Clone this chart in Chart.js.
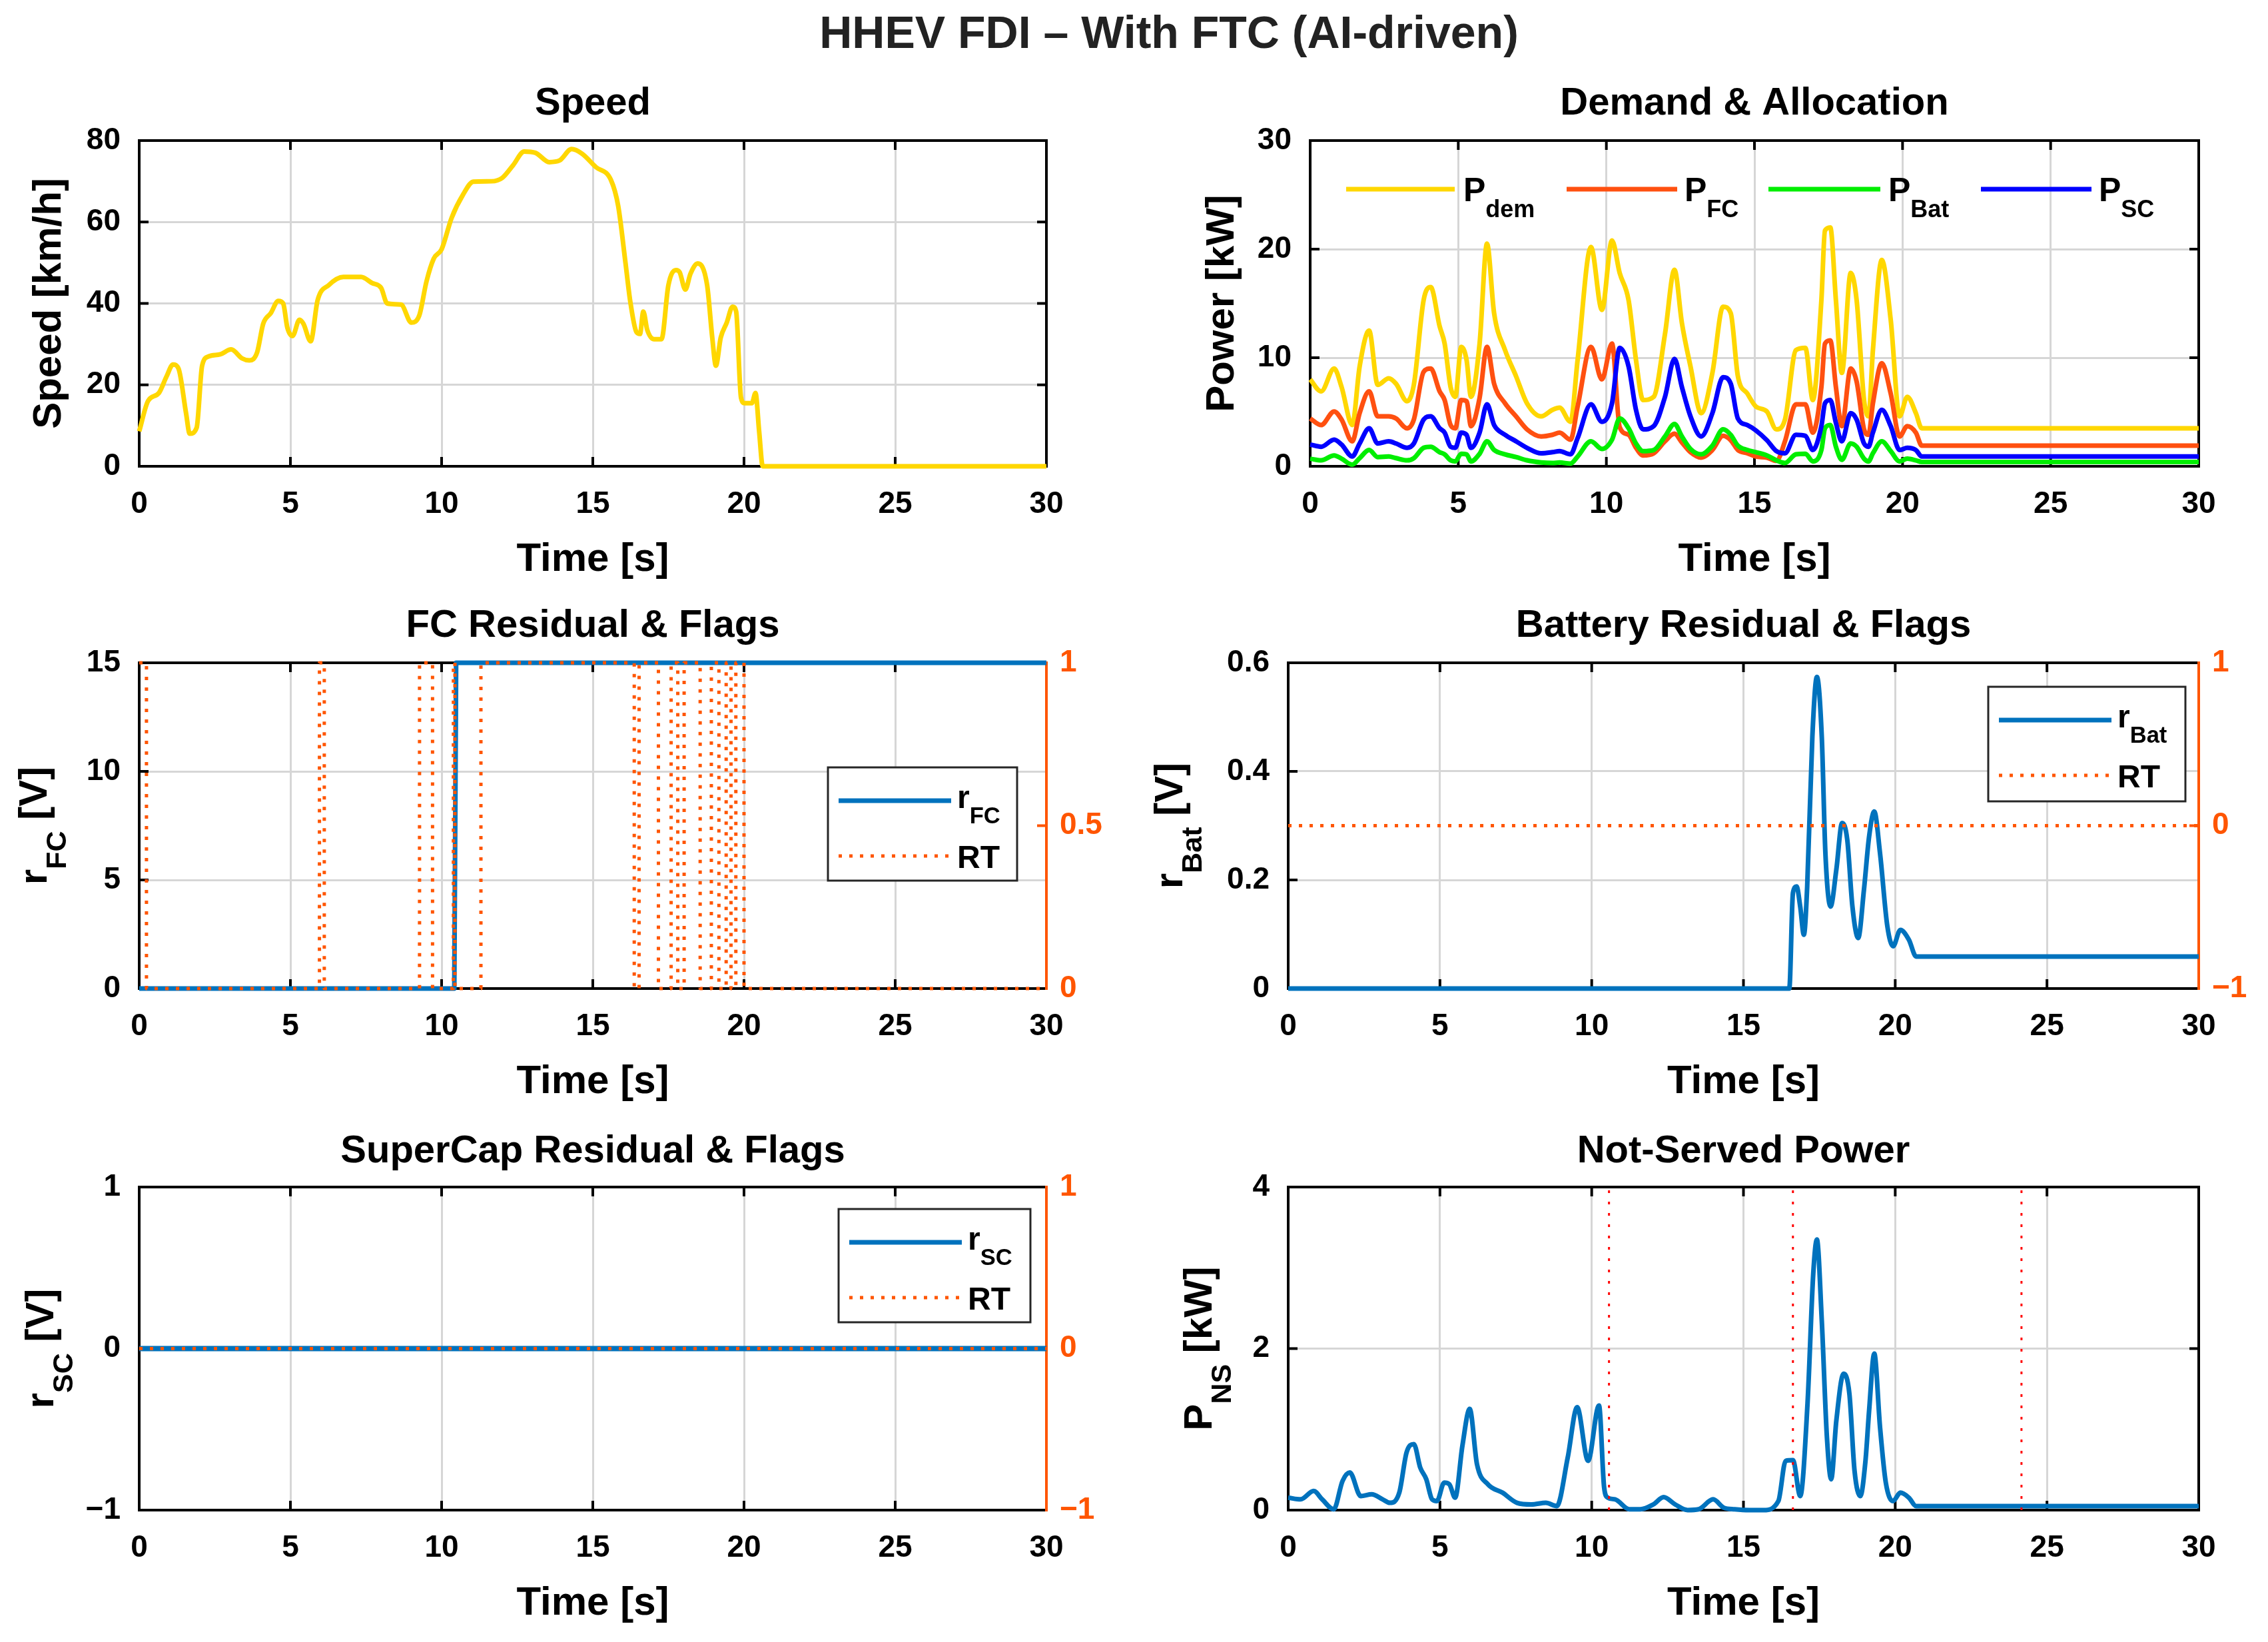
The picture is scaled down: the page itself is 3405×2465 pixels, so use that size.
<!DOCTYPE html>
<html>
<head>
<meta charset="utf-8">
<title>HHEV FDI – With FTC (AI-driven)</title>
<script src="https://cdn.jsdelivr.net/npm/chart.js@4.4.1/dist/chart.umd.min.js"></script>
<style>
  html, body { margin: 0; padding: 0; background: #fff; }
  body { width: 3405px; height: 2465px; position: relative; overflow: hidden; }
  #suptitle { position: absolute; left: 0; top: 10px; width: 3510px; text-align: center;
    font: bold 68px "Liberation Sans", Arial, sans-serif; color: #222; line-height: 76px; }
  canvas { position: absolute; }
</style>
</head>
<body>
<div id="suptitle">HHEV FDI – With FTC (AI-driven)</div>
<script>
/* ======================
   DATA
====================== */
const timeTicks = [0, 5, 10, 15, 20, 25, 30];

// Speed [km/h]
const speedT = [0, 0.29, 0.65, 0.9, 1.12, 1.3, 1.55, 1.67, 1.9, 2.08, 2.3, 2.68, 3.04, 3.4, 3.64, 3.9,
  4.1, 4.35, 4.6, 4.76, 4.9, 5.07, 5.3, 5.43, 5.67, 5.9, 6.27, 6.75, 7.34, 7.7, 8.0, 8.2, 8.66, 9.0,
  9.26, 9.5, 9.74, 10.0, 10.33, 10.7, 11.05, 11.65, 12.0, 12.37, 12.73, 13.1, 13.56, 13.9, 14.3,
  14.64, 15.1, 15.6, 15.84, 16.08, 16.24, 16.44, 16.56, 16.67, 16.8, 17.03, 17.27, 17.5, 17.75,
  17.87, 18.06, 18.23, 18.47, 18.78, 18.95, 19.07, 19.23, 19.43, 19.62, 19.74, 19.9, 20.02, 20.26,
  20.38, 20.5, 20.62, 30];
const speedV = [8.6, 16, 18, 22, 25, 24, 13, 8, 9.5, 24.7, 27, 27.5, 28.7, 26.5, 26, 28,
  35, 37.6, 40.6, 40, 34, 32, 36, 35, 30.7, 40.8, 44.5, 46.5, 46.5, 45, 43.8, 40, 39.7, 35.3,
  37, 45.4, 51, 53.3, 61, 66.6, 69.9, 70, 70.8, 74, 77.3, 77, 74.7, 75.1, 77.9,
  76.8, 73.5, 70.3, 63.9, 50, 40.4, 33, 32.5, 38, 33.5, 31.2, 31.2, 44.5, 48.2,
  47.7, 43.4, 47.3, 49.8, 44.5, 31.6, 24.7, 31.6, 35.3, 39.2, 38, 16.9, 15.5, 15.5,
  18, 8.6, 0, 0];
const speedTicks = [0, 20, 40, 60, 80];

// Demand & allocation [kW]
const powT = [0, 0.37, 0.81, 1.06, 1.42, 1.67, 1.99, 2.28, 2.65, 2.9,
  3.27, 3.5, 3.83, 4.07, 4.37, 4.54, 4.74, 4.9, 5.1, 5.28,
  5.43, 5.72, 5.97, 6.21, 6.58, 6.95, 7.32, 7.8, 8.18, 8.42,
  8.79, 9.03, 9.48, 9.85, 10.19, 10.45, 10.75, 11.0, 11.24, 11.6,
  11.98, 12.3, 12.55, 12.84, 13.2, 13.58, 13.94, 14.2, 14.44, 14.76,
  15.05, 15.42, 15.74, 16.03, 16.4, 16.72, 16.97, 17.26, 17.38, 17.56,
  17.75, 17.95, 18.25, 18.45, 18.7, 18.85, 19.0, 19.3, 19.6, 19.9,
  20.16, 20.45, 20.65, 30];
const pDem = [8.0, 6.9, 9.0, 7.3, 3.8, 9.2, 12.5, 7.5, 8.1, 7.6,
  6.0, 7.5, 15.3, 16.5, 12.9, 11.3, 7.3, 6.4, 11.0, 9.8,
  6.4, 11.3, 20.5, 14.1, 10.7, 8.3, 5.8, 4.6, 5.2, 5.4,
  4.1, 9.8, 20.2, 14.4, 20.8, 17.8, 15.3, 9.8, 6.1, 6.4,
  12.2, 18.1, 13.2, 9.2, 4.9, 8.6, 14.7, 14.1, 8.3, 6.7,
  5.5, 5.05, 3.4, 4.3, 10.7, 10.9, 6.1, 15.3, 21.7, 22.0,
  15.3, 8.6, 17.8, 15.3, 6.1, 4.6, 10.7, 19.0, 13.5, 4.6,
  6.4, 4.9, 3.5, 3.5];
const pFc = [4.4, 3.8, 5.05, 4.3, 2.3, 4.9, 6.9, 4.6, 4.6, 4.4,
  3.5, 4.3, 8.7, 9.0, 6.9, 6.1, 3.8, 3.5, 6.1, 6.0,
  3.7, 6.3, 11.0, 7.6, 5.8, 4.6, 3.4, 2.75, 2.9, 3.1,
  2.45, 5.5, 11.0, 8.0, 11.3, 3.6, 2.9, 1.7, 1.0, 1.2,
  2.3, 3.0, 2.2, 1.3, 0.8, 1.5, 2.8, 2.4, 1.5, 1.2,
  0.9, 0.8, 0.5, 2.3, 5.7, 5.7, 3.1, 7.3, 11.3, 11.6,
  7.3, 3.7, 9.0, 7.8, 3.4, 2.9, 5.8, 9.5, 6.7, 2.75,
  3.7, 3.1, 1.9, 1.9];
const pBat = [0.7, 0.55, 1.0, 0.7, 0.15, 0.75, 1.5, 0.85, 0.9, 0.75,
  0.55, 0.75, 1.7, 1.8, 1.3, 1.1, 0.55, 0.45, 1.15, 1.1,
  0.45, 1.15, 2.3, 1.5, 1.1, 0.85, 0.55, 0.35, 0.3, 0.35,
  0.25, 0.9, 2.3, 1.6, 2.45, 4.4, 3.5, 2.1, 1.4, 1.5,
  2.75, 3.9, 2.75, 1.6, 1.1, 1.9, 3.4, 2.9, 1.9, 1.5,
  1.3, 1.0, 0.55, 0.3, 1.1, 1.15, 0.45, 1.5, 3.5, 3.8,
  1.8, 0.6, 2.1, 1.8, 0.7, 0.45, 1.2, 2.3, 1.4, 0.45,
  0.7, 0.55, 0.4, 0.4];
const pSc = [2.0, 1.8, 2.45, 2.0, 0.9, 2.1, 3.5, 2.1, 2.3, 2.1,
  1.7, 2.1, 4.3, 4.6, 3.5, 3.1, 1.8, 1.7, 3.1, 2.9,
  1.7, 3.1, 5.7, 3.8, 2.9, 2.3, 1.7, 1.2, 1.3, 1.4,
  1.1, 2.6, 5.7, 4.1, 5.8, 10.9, 9.2, 5.2, 3.4, 3.7,
  6.4, 9.9, 7.3, 4.6, 2.75, 4.9, 8.2, 7.6, 4.4, 3.8,
  3.3, 2.4, 1.4, 1.2, 2.9, 2.8, 1.5, 3.7, 5.8, 6.1,
  4.0, 2.3, 4.9, 4.3, 2.1, 1.8, 3.1, 5.2, 3.7, 1.5,
  1.7, 1.5, 0.9, 0.9];
const powerTicks = [0, 10, 20, 30];

// FC residual [V] and RT flag (toggle times, flag starts at 1)
const rFcT = [0, 10.42, 10.48, 30];
const rFcV = [0, 0, 15, 15];
const rtFcEdges = [0.24, 5.96, 6.12, 9.27, 9.70, 10.39, 10.44, 11.30, 16.37, 16.53, 17.17,
  17.59, 17.81, 18.02, 18.55, 18.92, 19.17, 19.41, 19.57, 19.73, 20.0];
const rtFcStart = 1;
const rFcTicks = [0, 5, 10, 15];
const rtFcTicks = [0, 0.5, 1];

// Battery residual [V] and RT flag
const rBatT = [0, 16.51, 16.63, 16.75, 16.87, 16.99, 17.1, 17.27, 17.42, 17.58, 17.7, 17.87,
  18.06, 18.25, 18.42, 18.59, 18.78, 18.97, 19.14, 19.31, 19.5, 19.74, 19.93, 20.17, 20.45, 20.69, 30];
const rBatV = [0, 0, 0.176, 0.188, 0.151, 0.099, 0.188, 0.464, 0.574, 0.464, 0.249, 0.151,
  0.219, 0.305, 0.274, 0.151, 0.093, 0.182, 0.28, 0.326, 0.249, 0.115, 0.078, 0.108, 0.09, 0.059, 0.059];
const rtBatT = [0, 30];
const rtBatV = [0, 0];
const rBatTicks = [0, 0.2, 0.4, 0.6];
const rtBatTicks = [-1, 0, 1];

// SuperCap residual [V] and RT flag
const rScT = [0, 30];
const rScV = [0, 0];
const rtScT = [0, 30];
const rtScV = [0, 0];
const rScTicks = [-1, 0, 1];
const rtScTicks = [-1, 0, 1];

// Not-served power [kW] and fault instants [s]
const nsT = [0, 0.41, 0.84, 1.12, 1.5, 1.79, 2.03, 2.39, 2.75, 3.11,
  3.35, 3.66, 3.9, 4.14, 4.35, 4.55, 4.74, 4.9, 5.14, 5.31,
  5.5, 5.74, 5.98, 6.22, 6.58, 7.06, 7.54, 8.01, 8.49, 8.85,
  9.21, 9.52, 9.88, 10.24, 10.41, 10.53, 10.77, 11.24, 11.6, 12.03,
  12.37, 12.75, 13.16, 13.52, 14.0, 14.35, 14.71, 15.19, 15.67, 16.15,
  16.39, 16.63, 16.87, 17.11, 17.3, 17.42, 17.58, 17.75, 17.89, 18.06,
  18.3, 18.49, 18.66, 18.85, 19.02, 19.14, 19.31, 19.5, 19.69, 19.93,
  20.17, 20.45, 20.69, 30];
const nsV = [0.154, 0.133, 0.237, 0.133, 0.01, 0.36, 0.465, 0.174, 0.195, 0.133,
  0.09, 0.216, 0.714, 0.817, 0.527, 0.382, 0.133, 0.112, 0.34, 0.32,
  0.154, 0.797, 1.253, 0.568, 0.32, 0.216, 0.09, 0.07, 0.09, 0.05,
  0.651, 1.274, 0.61, 1.295, 0.278, 0.154, 0.133, 0.01, 0.01, 0.07,
  0.16, 0.07, 0, 0.01, 0.133, 0.03, 0.01, 0, 0, 0.112,
  0.61, 0.618, 0.174, 1.315, 2.93, 3.35, 2.35, 0.9, 0.382, 1.108,
  1.689, 1.44, 0.485, 0.174, 0.61, 1.232, 1.938, 1.025, 0.34, 0.112,
  0.216, 0.154, 0.05, 0.05];
const faultT = [10.57, 16.63, 24.16];
const nsTicks = [0, 2, 4];

/* ======================
   STYLE / LAYOUT
====================== */
const FONT = '"Liberation Sans", Arial, Helvetica, sans-serif';
const BLUE = '#0072bd';
const ORANGE = '#ff5500';
const YELLOW = '#ffd700';
const RED_OR = '#ff5010';
const GREEN = '#00ee00';
const PURE_BLUE = '#0000ff';
const GRID = { color: '#d6d6d6', lineWidth: 3, drawTicks: false };
const LW = 7;
const DOT = [5, 11];

const ROWS = [
  { plotT: 211, plotB: 700, titleC: 156 },
  { plotT: 995, plotB: 1484, titleC: 940 },
  { plotT: 1782, plotB: 2267, titleC: 1729 }
];
const TITLE_SIZE = 58;
const TITLE_LH = TITLE_SIZE * 1.2;
const TICK_SIZE = 46;
const LABEL_SIZE = 60;
const X_AXIS_H = 176;
const TICK_LEN = 14;
const SUB = 0.72;
const SUB_SHIFT = 0.48;

Chart.defaults.font.family = FONT;
Chart.defaults.font.weight = 'bold';
Chart.defaults.color = '#000';

/* ======================
   HELPERS
====================== */
function pts(xs, ys) {
  return xs.map((x, i) => ({ x, y: ys[i] }));
}

// flag signal from its toggle times
function flagSteps(edges, start, tEnd) {
  let v = start;
  const out = [{ x: 0, y: v }];
  edges.forEach(t => { v = 1 - v; out.push({ x: t, y: v }); });
  out.push({ x: tEnd, y: v });
  return out;
}

// vertical marker lines from y0 to y1
function vlines(ts, y0, y1) {
  const out = [];
  ts.forEach(t => out.push({ x: t, y: y0 }, { x: t, y: y1 }, { x: t, y: null }));
  return out;
}

function fmtTick(v) {
  const s = String(Math.round(v * 100) / 100);
  return v < 0 ? '\u2212' + s.slice(1) : s;
}

function fixedTicks(values) {
  return s => { s.ticks = values.map(v => ({ value: v })); };
}

function line(data, color, extra) {
  return Object.assign({
    data, borderColor: color, backgroundColor: color, borderWidth: LW,
    pointRadius: 0, fill: false, clip: 12, cubicInterpolationMode: 'monotone',
    borderJoinStyle: 'round'
  }, extra || {});
}

function flat(data, color, extra) {
  return line(data, color, Object.assign({ cubicInterpolationMode: 'default', tension: 0 }, extra || {}));
}

function dotted(data, extra) {
  return flat(data, ORANGE, Object.assign({ borderWidth: 5, borderDash: DOT, borderCapStyle: 'butt' }, extra || {}));
}

function drawRich(ctx, parts, x, y, size) {
  parts.forEach(([t, sub]) => {
    const s = sub ? size * SUB : size;
    ctx.font = `bold ${s}px ${FONT}`;
    ctx.fillText(t, x, sub ? y + size * SUB_SHIFT : y);
    x += ctx.measureText(t).width;
  });
}

function richWidth(ctx, parts, size) {
  let w = 0;
  parts.forEach(([t, sub]) => {
    ctx.font = `bold ${sub ? size * SUB : size}px ${FONT}`;
    w += ctx.measureText(t).width;
  });
  return w;
}

// boxed legend with two rows (residual + RT)
function boxLegend(L, T, R, B, first) {
  return {
    size: 48, box: [L, T, R, B],
    rows: [
      { y: T + 50, base: T + 61, x0: L + 16, x1: L + 185, tx: L + 194, color: BLUE, width: LW, parts: first },
      { y: T + 133, base: T + 151, x0: L + 16, x1: L + 185, tx: L + 194, color: ORANGE, width: 5, dash: DOT, parts: [['RT']] }
    ]
  };
}

/* ======================
   AXES BOX, TICKS, LABELS, LEGENDS
====================== */
const decor = {
  id: 'decor',
  beforeDatasetsDraw(chart, args, o) {
    const { ctx, chartArea: a, scales } = chart;
    const seg = (x1, y1, x2, y2, c) => {
      ctx.strokeStyle = c;
      ctx.beginPath(); ctx.moveTo(x1, y1); ctx.lineTo(x2, y2); ctx.stroke();
    };
    ctx.save();
    ctx.lineWidth = 4;
    scales.x.ticks.forEach(t => {
      const px = scales.x.getPixelForValue(t.value);
      seg(px, a.bottom, px, a.bottom - TICK_LEN, '#000');
      seg(px, a.top, px, a.top + TICK_LEN, '#000');
    });
    scales.y.ticks.forEach(t => {
      const py = scales.y.getPixelForValue(t.value);
      seg(a.left, py, a.left + TICK_LEN, py, '#000');
      if (!scales.y2) seg(a.right, py, a.right - TICK_LEN, py, '#000');
    });
    if (scales.y2) {
      scales.y2.ticks.forEach(t => {
        const py = scales.y2.getPixelForValue(t.value);
        seg(a.right, py, a.right - TICK_LEN, py, ORANGE);
      });
    }
    ctx.strokeStyle = '#000';
    ctx.strokeRect(a.left, a.top, a.right - a.left, a.bottom - a.top);
    if (scales.y2) seg(a.right, a.top - 2, a.right, a.bottom + 2, ORANGE);
    ctx.restore();
  },
  afterDraw(chart, args, o) {
    const { ctx, chartArea: a } = chart;
    ctx.save();
    ctx.fillStyle = '#000';
    ctx.textAlign = 'left';
    ctx.textBaseline = 'alphabetic';
    // y-axis label, rotated, baseline at o.yTitle.x
    const yt = o.yTitle;
    const w = richWidth(ctx, yt.parts, LABEL_SIZE);
    ctx.save();
    ctx.translate(yt.x - o.left, (a.top + a.bottom) / 2);
    ctx.rotate(-Math.PI / 2);
    drawRich(ctx, yt.parts, -w / 2, 0, LABEL_SIZE);
    ctx.restore();
    // legend
    const lg = o.legend;
    if (lg) {
      if (lg.box) {
        const [L, T, R, B] = lg.box;
        ctx.fillStyle = '#fff';
        ctx.fillRect(L - o.left, T - o.top, R - L, B - T);
        ctx.lineWidth = 3;
        ctx.strokeStyle = '#262626';
        ctx.strokeRect(L - o.left, T - o.top, R - L, B - T);
      }
      lg.rows.forEach(r => {
        ctx.strokeStyle = r.color;
        ctx.lineWidth = r.width;
        ctx.setLineDash(r.dash || []);
        ctx.beginPath();
        ctx.moveTo(r.x0 - o.left, r.y - o.top);
        ctx.lineTo(r.x1 - o.left, r.y - o.top);
        ctx.stroke();
        ctx.setLineDash([]);
        ctx.fillStyle = '#000';
        drawRich(ctx, r.parts, r.tx - o.left, r.base - o.top, lg.size);
      });
    }
    ctx.restore();
  }
};

function xAxis() {
  return {
    type: 'linear', min: 0, max: 30,
    afterBuildTicks: fixedTicks(timeTicks),
    afterFit: s => { s.height = X_AXIS_H; },
    grid: GRID,
    border: { display: false },
    ticks: { padding: 30, maxRotation: 0, autoSkip: false, font: { size: TICK_SIZE, weight: 'bold' }, color: '#000' },
    title: { display: true, text: 'Time [s]', font: { size: LABEL_SIZE, weight: 'bold' }, color: '#000', padding: 0 }
  };
}

function yAxis(min, max, ticks, side, width) {
  const left = side === 'left';
  return {
    type: 'linear', position: side, min, max,
    afterBuildTicks: fixedTicks(ticks),
    afterFit: s => { s.width = width; },
    grid: left ? GRID : { display: false, drawOnChartArea: false, drawTicks: false },
    border: { display: false },
    ticks: {
      padding: left ? 28 : 20, autoSkip: false, callback: fmtTick,
      color: left ? '#000' : ORANGE, font: { size: TICK_SIZE, weight: 'bold' }
    }
  };
}

function makePanel(p) {
  const row = ROWS[p.row];
  const top = Math.round(row.titleC - TITLE_LH / 2);
  const bottom = row.plotB + X_AXIS_H;
  const cv = document.createElement('canvas');
  cv.width = p.width;
  cv.height = bottom - top;
  cv.style.left = p.left + 'px';
  cv.style.top = top + 'px';
  document.body.appendChild(cv);

  const rightW = p.left + p.width - p.plotR;
  const scales = { x: xAxis(), y: yAxis(p.y[0], p.y[1], p.y[2], 'left', p.plotL - p.left) };
  if (p.y2) scales.y2 = yAxis(p.y2[0], p.y2[1], p.y2[2], 'right', rightW);

  return new Chart(cv, {
    type: 'line',
    data: { datasets: p.datasets },
    options: {
      responsive: false, animation: false, devicePixelRatio: 1, events: [],
      spanGaps: false,
      layout: { padding: { left: 0, top: 0, bottom: 0, right: p.y2 ? 0 : rightW } },
      plugins: {
        legend: { display: false },
        tooltip: { enabled: false },
        title: {
          display: true, text: p.title, fullSize: false, color: '#000',
          font: { size: TITLE_SIZE, weight: 'bold', lineHeight: 1.2 },
          padding: { top: 0, bottom: row.plotT - top - TITLE_LH }
        },
        decor: { left: p.left, top, yTitle: p.yTitle, legend: p.legend }
      },
      scales
    },
    plugins: [decor]
  });
}

/* ======================
   PANELS
====================== */
makePanel({
  row: 0, left: 0, width: 1700, plotL: 209, plotR: 1571, title: 'Speed',
  y: [0, 80, speedTicks],
  yTitle: { x: 91, parts: [['Speed [km/h]']] },
  datasets: [line(pts(speedT, speedV), YELLOW)]
});

makePanel({
  row: 0, left: 1700, width: 1705, plotL: 1967, plotR: 3301, title: 'Demand & Allocation',
  y: [0, 30, powerTicks],
  yTitle: { x: 1852, parts: [['Power [kW]']] },
  legend: {
    size: 50,
    rows: [
      { y: 284, base: 302, x0: 2021, x1: 2184, tx: 2197, color: YELLOW, width: LW, parts: [['P'], ['dem', 1]] },
      { y: 284, base: 302, x0: 2352, x1: 2518, tx: 2529, color: RED_OR, width: LW, parts: [['P'], ['FC', 1]] },
      { y: 284, base: 302, x0: 2655, x1: 2823, tx: 2835, color: GREEN, width: LW, parts: [['P'], ['Bat', 1]] },
      { y: 284, base: 302, x0: 2974, x1: 3140, tx: 3151, color: PURE_BLUE, width: LW, parts: [['P'], ['SC', 1]] }
    ]
  },
  datasets: [
    line(pts(powT, pDem), YELLOW, { order: 4 }),
    line(pts(powT, pFc), RED_OR, { order: 3 }),
    line(pts(powT, pBat), GREEN, { order: 2 }),
    line(pts(powT, pSc), PURE_BLUE, { order: 1 })
  ]
});

makePanel({
  row: 1, left: 0, width: 1700, plotL: 209, plotR: 1571, title: 'FC Residual & Flags',
  y: [0, 15, rFcTicks], y2: [0, 1, rtFcTicks],
  yTitle: { x: 70, parts: [['r'], ['FC', 1], [' [V]']] },
  legend: boxLegend(1243, 1152, 1527, 1322, [['r'], ['FC', 1]]),
  datasets: [
    flat(pts(rFcT, rFcV), BLUE, { order: 2, yAxisID: 'y' }),
    dotted(flagSteps(rtFcEdges, rtFcStart, 30), { order: 1, yAxisID: 'y2', stepped: true })
  ]
});

makePanel({
  row: 1, left: 1700, width: 1705, plotL: 1934, plotR: 3301, title: 'Battery Residual & Flags',
  y: [0, 0.6, rBatTicks], y2: [-1, 1, rtBatTicks],
  yTitle: { x: 1775, parts: [['r'], ['Bat', 1], [' [V]']] },
  legend: boxLegend(2985, 1031, 3281, 1203, [['r'], ['Bat', 1]]),
  datasets: [
    line(pts(rBatT, rBatV), BLUE, { order: 2, yAxisID: 'y' }),
    dotted(pts(rtBatT, rtBatV), { order: 1, yAxisID: 'y2' })
  ]
});

makePanel({
  row: 2, left: 0, width: 1700, plotL: 209, plotR: 1571, title: 'SuperCap Residual & Flags',
  y: [-1, 1, rScTicks], y2: [-1, 1, rtScTicks],
  yTitle: { x: 80, parts: [['r'], ['SC', 1], [' [V]']] },
  legend: boxLegend(1259, 1815, 1547, 1985, [['r'], ['SC', 1]]),
  datasets: [
    flat(pts(rScT, rScV), BLUE, { order: 2, yAxisID: 'y', borderWidth: 8 }),
    dotted(pts(rtScT, rtScV), { order: 1, yAxisID: 'y2' })
  ]
});

makePanel({
  row: 2, left: 1700, width: 1705, plotL: 1934, plotR: 3301, title: 'Not-Served Power',
  y: [0, 4, nsTicks],
  yTitle: { x: 1819, parts: [['P'], ['NS', 1], [' [kW]']] },
  datasets: [
    line(pts(nsT, nsV), BLUE, { order: 2 }),
    flat(vlines(faultT, 0, 4), '#ff0000', { order: 1, borderWidth: 3, borderDash: [4, 13], borderCapStyle: 'butt' })
  ]
});
</script>
</body>
</html>
